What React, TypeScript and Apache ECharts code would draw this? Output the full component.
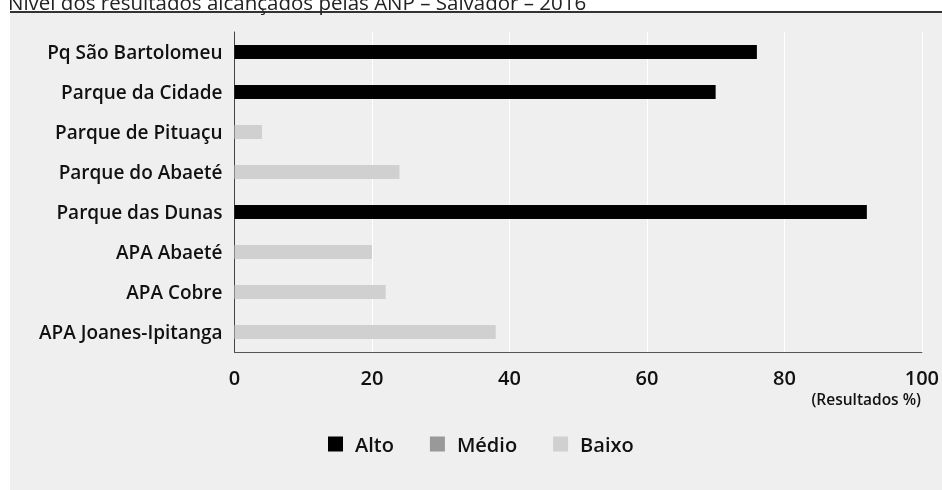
import React, { useEffect, useRef } from "react";
import * as echarts from "echarts";

const categories = [
  "Pq São Bartolomeu",
  "Parque da Cidade",
  "Parque de Pituaçu",
  "Parque do Abaeté",
  "Parque das Dunas",
  "APA Abaeté",
  "APA Cobre",
  "APA Joanes-Ipitanga",
];
const results = [76, 70, 4, 24, 92, 20, 22, 38];
const levels = ["Alto", "Alto", "Baixo", "Baixo", "Alto", "Baixo", "Baixo", "Baixo"];
const levelNames = ["Alto", "Médio", "Baixo"];
const levelColors = ["#000000", "#999999", "#d0d0d0"];
const xTicks = [0, 20, 40, 60, 80, 100];
const title = "Nível dos resultados alcançados pelas ANP – Salvador – 2016";
const axisName = "(Resultados %)";

export default function App() {
  const ref = useRef<HTMLDivElement>(null);
  useEffect(() => {
    if (!ref.current) return;
    const chart = echarts.init(ref.current, null, { renderer: "svg" });
    const font = "'Open Sans', 'Noto Sans', sans-serif";
    const series = levelNames.map((name, i) => ({
      name,
      type: "bar",
      stack: "total",
      barWidth: 14,
      itemStyle: { color: levelColors[i] },
      data: results.map((v, j) => (levels[j] === name ? v : "-")),
    }));
    chart.setOption({
      animation: false,
      textStyle: { fontFamily: font },
      graphic: [
        {
          type: "rect",
          z: -10,
          shape: { x: 10, y: 13, width: 932, height: 477 },
          style: { fill: "#efefef" },
        },
        {
          type: "rect",
          z: -5,
          shape: { x: 10, y: 11, width: 932, height: 2 },
          style: { fill: "#333333" },
        },
        {
          type: "text",
          x: 8,
          y: 12,
          style: {
            text: title,
            font: `400 20.5px ${font}`,
            fill: "#222222",
            textAlign: "left",
            textVerticalAlign: "bottom",
          },
        },
        {
          type: "text",
          x: 921,
          y: 399,
          style: {
            text: axisName,
            font: `600 15.5px ${font}`,
            fill: "#111111",
            textAlign: "right",
            textVerticalAlign: "middle",
          },
        },
      ],
      legend: {
        data: levelNames,
        left: 323,
        top: 429,
        itemWidth: 15,
        itemHeight: 15,
        itemGap: 36,
        icon: "rect",
        textStyle: {
          fontSize: 20,
          fontWeight: 600,
          color: "#111111",
          fontFamily: font,
          padding: [0, 0, 0, 7],
        },
      },
      grid: { left: 234.5, right: 20, top: 32, bottom: 138 },
      xAxis: {
        type: "value",
        min: xTicks[0],
        max: xTicks[xTicks.length - 1],
        interval: xTicks[1] - xTicks[0],
        axisLine: { show: true, lineStyle: { color: "#555555", width: 1 } },
        axisTick: { show: false },
        axisLabel: {
          fontSize: 20,
          fontWeight: 600,
          color: "#111111",
          margin: 15,
          fontFamily: font,
        },
        splitLine: { show: true, lineStyle: { color: "#ffffff", width: 1 } },
      },
      yAxis: {
        type: "category",
        data: categories,
        inverse: true,
        axisLine: { show: true, lineStyle: { color: "#444444", width: 1 } },
        axisTick: { show: false },
        axisLabel: {
          fontSize: 19,
          fontWeight: 600,
          color: "#111111",
          margin: 12,
          fontFamily: font,
        },
      },
      series,
    });
    return () => chart.dispose();
  }, []);
  return (
    <div
      ref={ref}
      style={{ position: "fixed", left: 0, top: 0, width: 942, height: 490 }}
    />
  );
}
